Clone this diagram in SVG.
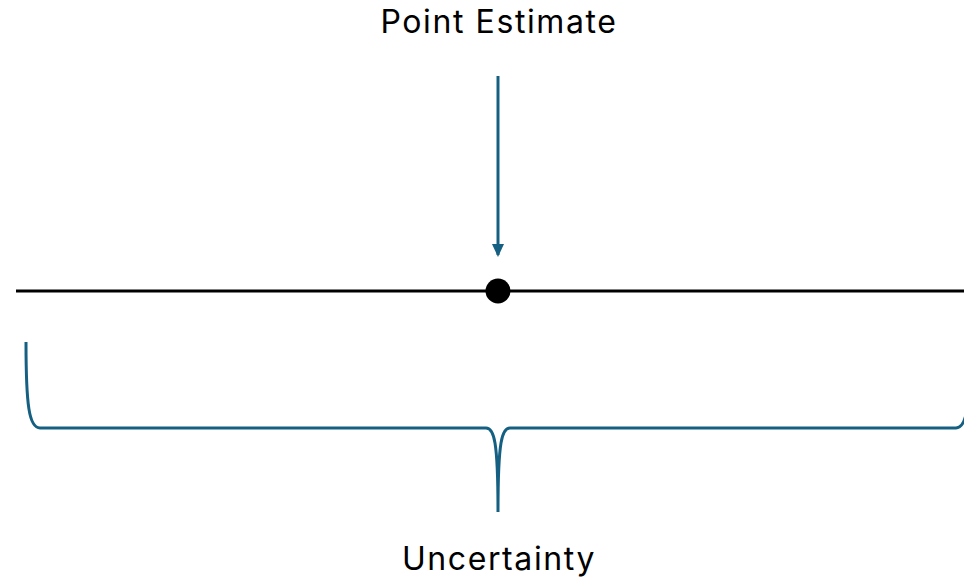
<svg xmlns="http://www.w3.org/2000/svg" width="964" height="579" viewBox="0 0 964 579">
<style>
.lbl{font-family:Inter,"Liberation Sans",sans-serif;font-size:32px;letter-spacing:1.6px;fill:#000;text-anchor:middle}
.blue{fill:none;stroke:#156082;stroke-width:3}
</style>
<defs>
<marker id="ah" markerWidth="13" markerHeight="12" refX="11" refY="6" orient="auto" markerUnits="userSpaceOnUse">
<path d="M0,0 L13,6 L0,12 Z" fill="#156082"/>
</marker>
</defs>
<rect width="964" height="579" fill="#fff"/>
<g id="axis">
<line x1="16" y1="291" x2="964" y2="291" stroke="#000" stroke-width="3"/>
</g>
<g id="point">
<circle cx="498" cy="291" r="12.5" fill="#000"/>
</g>
<g id="connectors">
<line class="blue" x1="498" y1="76" x2="498" y2="255" marker-end="url(#ah)"/>
<path class="blue" d="M26,342 C26,405 29,428 40,428 L486,428 C494,428 498,440 498,512 C498,440 502,428 510,428 L956,428 C967,428 970,405 970,342"/>
</g>
<g id="label-point"><text class="lbl" x="499" y="33">Point Estimate</text></g>
<g id="label-uncertainty"><text class="lbl" x="499" y="570">Uncertainty</text></g>
</svg>
